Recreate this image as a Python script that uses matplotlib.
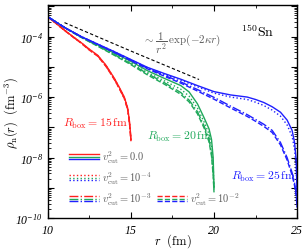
import numpy as np
import matplotlib
matplotlib.use("Agg")
import matplotlib.pyplot as plt
from matplotlib.lines import Line2D
from matplotlib.legend_handler import HandlerBase
from matplotlib.ticker import FixedLocator, LogLocator, FuncFormatter, MultipleLocator, NullFormatter

# tick labels: italic serif via custom math fonts; everything else uses Computer Modern
plt.rcParams['mathtext.fontset'] = 'custom'
plt.rcParams['mathtext.rm'] = 'Liberation Serif:italic'
plt.rcParams['mathtext.it'] = 'Liberation Serif:italic'
plt.rcParams['mathtext.bf'] = 'Liberation Serif:italic'
plt.rcParams['font.family'] = ['Liberation Serif', 'DejaVu Serif']
CM = 'cm'

# ---------------- data (log10 of density, fm^-3) ----------------
r_red = [10.0, 10.5, 11.0, 11.5, 12.0, 12.5, 13.0, 13.5, 14.0, 14.3, 14.6, 14.8, 14.9, 14.96, 15.0]
red_v0 = [-3.35, -3.57, -3.79, -4.00, -4.20, -4.42, -4.62, -4.95, -5.38, -5.68, -6.00, -6.36, -6.75, -7.10, -7.41]
red_v4 = [-3.35, -3.57, -3.79, -4.00, -4.21, -4.43, -4.63, -4.96, -5.39, -5.69, -6.02, -6.38, -6.77, -7.12, -7.43]
red_v3 = [-3.35, -3.57, -3.79, -4.01, -4.21, -4.44, -4.64, -4.98, -5.41, -5.71, -6.04, -6.40, -6.79, -7.14, -7.45]
red_v2 = [-3.35, -3.57, -3.80, -4.01, -4.22, -4.45, -4.65, -4.99, -5.42, -5.72, -6.05, -6.41, -6.80, -7.15, -7.46]

r_green = [10.0, 11.0, 12.0, 13.0, 14.0, 15.0, 16.0, 17.0, 18.0, 18.5, 19.0, 19.4, 19.7, 19.85, 19.95, 20.0]
green_v0 = [-3.35, -3.70, -4.01, -4.28, -4.55, -4.82, -5.13, -5.38, -5.62, -5.83, -6.22, -6.68, -7.05, -7.40, -8.00, -9.00]
green_v4 = [-3.35, -3.70, -4.02, -4.30, -4.58, -4.87, -5.19, -5.46, -5.74, -5.97, -6.36, -6.82, -7.22, -7.62, -8.25, -9.05]
green_v3 = [-3.35, -3.70, -4.02, -4.31, -4.60, -4.90, -5.23, -5.52, -5.85, -6.10, -6.48, -6.95, -7.40, -7.85, -8.50, -9.10]
green_v2 = [-3.35, -3.71, -4.03, -4.32, -4.62, -4.93, -5.27, -5.57, -5.91, -6.16, -6.55, -7.02, -7.48, -7.95, -8.60, -9.15]

r_blue = [10.0, 11.0, 12.0, 13.0, 14.0, 15.0, 16.0, 17.0, 18.0, 19.0, 20.0, 21.0, 22.0, 22.5, 23.0, 23.5, 24.0, 24.4, 24.7, 24.85, 24.95, 25.0]
blue_v0 = [-3.35, -3.70, -4.00, -4.25, -4.50, -4.76, -5.02, -5.22, -5.41, -5.62, -5.82, -5.93, -6.00, -6.08, -6.18, -6.32, -6.50, -6.76, -7.10, -7.50, -8.10, -9.30]
blue_v4 = [-3.35, -3.70, -4.00, -4.25, -4.50, -4.77, -5.03, -5.24, -5.44, -5.66, -5.87, -6.00, -6.08, -6.17, -6.28, -6.43, -6.63, -6.92, -7.30, -7.72, -8.35, -9.40]
blue_v3 = [-3.35, -3.70, -4.00, -4.26, -4.52, -4.79, -5.05, -5.28, -5.50, -5.75, -6.01, -6.30, -6.58, -6.74, -6.90, -7.10, -7.50, -8.00, -8.50, -8.85, -9.20, -9.60]
blue_v2 = [-3.35, -3.70, -4.01, -4.27, -4.53, -4.80, -5.07, -5.31, -5.54, -5.80, -6.07, -6.36, -6.64, -6.80, -6.97, -7.17, -7.58, -8.08, -8.58, -8.93, -9.28, -9.65]

r_asym = [11.0, 15.0, 19.1]
asym_log = [-3.54, -4.48, -5.42]

cut_labels = [r"$v^2_{\rm cut}=0.0$", r"$v^2_{\rm cut}=10^{-4}$",
              r"$v^2_{\rm cut}=10^{-3}$", r"$v^2_{\rm cut}=10^{-2}$"]
box_labels = [r"$R_{\rm box}=15\,{\rm fm}$", r"$R_{\rm box}=20\,{\rm fm}$", r"$R_{\rm box}=25\,{\rm fm}$"]

# ---------------- styles ----------------
RED, GREEN, BLUE = '#ff1f1f', '#1fa85a', '#1f1fff'
GRAY = '#5a5a5a'
styles = ['-', ':', '-.', '--']
lw = 1.0

fig = plt.figure(figsize=(3.05, 2.51), dpi=100)
ax = fig.add_axes([0.157, 0.127, 0.817, 0.849])

curves = [
    (r_red, [red_v0, red_v4, red_v3, red_v2], RED),
    (r_green, [green_v0, green_v4, green_v3, green_v2], GREEN),
    (r_blue, [blue_v0, blue_v4, blue_v3, blue_v2], BLUE),
]
for rr, sets, col in curves:
    for ls, vals in zip(styles, sets):
        ax.plot(rr, 10.0 ** np.array(vals), color=col, ls=ls, lw=lw)

ax.plot(r_asym, 10.0 ** np.array(asym_log), color='k', ls=(0, (3, 2)), lw=0.8)

ax.set_yscale('log')
ax.set_xlim(10, 25)
ax.set_ylim(1e-10, 1.1e-3)

ax.xaxis.set_major_locator(FixedLocator([10, 15, 20, 25]))
ax.xaxis.set_minor_locator(MultipleLocator(2.5))
ax.xaxis.set_major_formatter(FuncFormatter(lambda v, p: r"$%d$" % v))
ax.yaxis.set_major_locator(LogLocator(base=10, numticks=20))
ax.yaxis.set_minor_locator(LogLocator(base=10, subs=np.arange(2, 10), numticks=100))
ax.yaxis.set_minor_formatter(NullFormatter())

def yfmt(v, p):
    e = int(round(np.log10(v)))
    if e % 2 == 0:
        return r"$10^{%d}$" % e
    return ""
ax.yaxis.set_major_formatter(FuncFormatter(yfmt))

ax.tick_params(which='both', direction='in', top=True, right=True, labelsize=8.5)
ax.tick_params(which='major', length=4, width=0.8)
ax.tick_params(which='minor', length=2.2, width=0.6)
ax.tick_params(axis='x', pad=4)
for s in ax.spines.values():
    s.set_linewidth(1.0)

ax.set_xlabel(r"$r\ \ ({\rm fm})$", fontsize=9, math_fontfamily=CM)
ax.xaxis.set_label_coords(0.5, -0.06)
ax.set_ylabel(r"$\rho_{\rm n}(r)\ \ ({\rm fm}^{-3})$", fontsize=9, math_fontfamily=CM)
ax.yaxis.set_label_coords(-0.11, 0.5)

ax.text(22.6, 10 ** -3.8, r"$^{150}{\rm Sn}$", fontsize=10, ha='center', va='center',
        math_fontfamily=CM)
ax.text(15.75, 10 ** -4.2, r"$\sim\dfrac{1}{r^2}\,\exp(-2\kappa r)$", fontsize=8, color=GRAY,
        ha='left', va='center', math_fontfamily=CM)
ax.text(12.83, 10 ** -6.87, box_labels[0], fontsize=8.5, color=RED, ha='center', va='center',
        math_fontfamily=CM)
ax.text(17.9, 10 ** -7.3, box_labels[1], fontsize=8.5, color=GREEN, ha='center', va='center',
        math_fontfamily=CM)
ax.text(22.95, 10 ** -8.62, box_labels[2], fontsize=8.5, color=BLUE, ha='center', va='center',
        math_fontfamily=CM)

# ---------------- legend with stacked colour keys ----------------
class StackHandler(HandlerBase):
    def create_artists(self, legend, orig_handle, xdescent, ydescent, width, height, fontsize, trans):
        arts = []
        n = len(orig_handle)
        gap = 1.9
        for i, h in enumerate(orig_handle):
            y = height / 2.0 - ydescent + (n - 1) / 2.0 * gap - i * gap
            ln = Line2D([-xdescent, -xdescent + width], [y, y], color=h.get_color(),
                        ls=h.get_linestyle(), lw=h.get_linewidth())
            ln.set_transform(trans)
            arts.append(ln)
        if not arts:
            ln = Line2D([], [], visible=False)
            ln.set_transform(trans)
            arts.append(ln)
        return arts

def key(ls):
    return tuple(Line2D([], [], color=c, ls=ls, lw=lw) for c in (RED, GREEN, BLUE))

handles = [key('-'), key(':'), key('-.'), (), (), key('--')]
labels = [cut_labels[0], cut_labels[1], cut_labels[2], cut_labels[1], cut_labels[1], cut_labels[3]]
leg = ax.legend(handles, labels, handler_map={tuple: StackHandler()}, ncol=2,
                loc='upper left', bbox_to_anchor=(0.062, 0.35), frameon=False,
                fontsize=7.5, handlelength=2.9, handletextpad=0.3, columnspacing=0.55,
                labelspacing=0.45, borderpad=0.0)
for i, t in enumerate(leg.get_texts()):
    t.set_color(GRAY)
    t.set_math_fontfamily(CM)
    if i in (3, 4):
        t.set_alpha(0.0)

fig.savefig("out.png", dpi=100)
